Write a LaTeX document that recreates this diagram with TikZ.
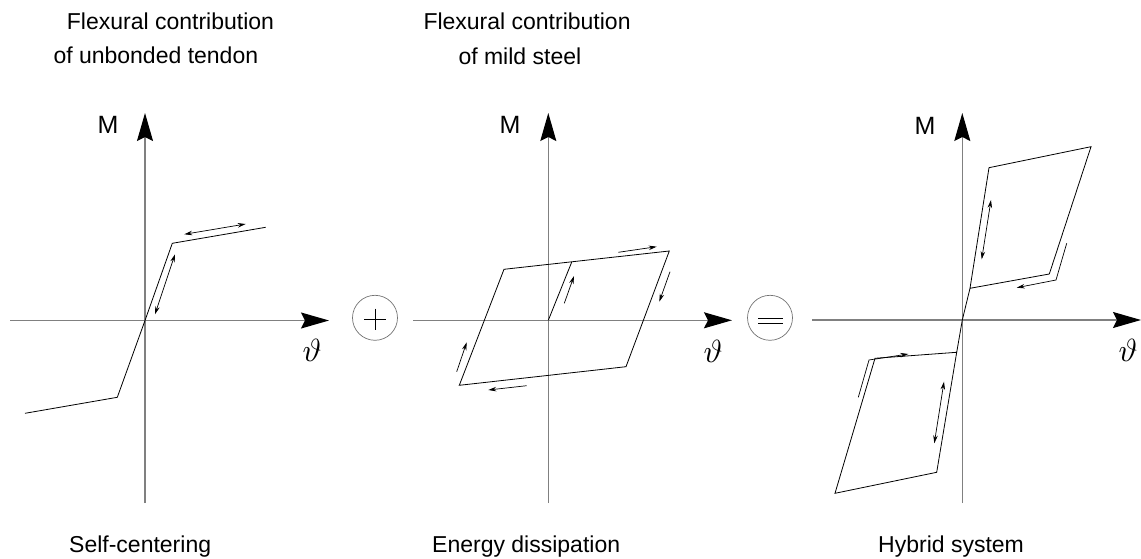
\documentclass[tikz,border=0pt]{standalone}
\usepackage{fontspec}
\setmainfont{Liberation Sans}
\usetikzlibrary{arrows.meta}
\begin{document}
\begin{tikzpicture}[x=1pt,y=-1pt,
  axis/.style={draw=black!50, line width=1.2pt, -{Stealth[length=28pt,width=16pt,inset=4pt,color=black]}},
  curve/.style={draw=black, line width=0.8pt, line join=miter},
  darr/.style={draw=black, line width=0.7pt, {Stealth[length=8pt,width=4.5pt]}-{Stealth[length=8pt,width=4.5pt]}},
  sarr/.style={draw=black, line width=0.7pt, -{Stealth[length=8pt,width=4.5pt]}},
  lbl/.style={font=\fontsize{23}{27}\selectfont, inner sep=0pt, anchor=base west},
  mlbl/.style={font=\fontsize{25}{30}\selectfont, inner sep=0pt},
  thlbl/.style={scale=3.2, inner sep=0pt},
  opc/.style={circle, draw=black!55, line width=0.7pt, minimum size=45pt, inner sep=0pt},
  sign/.style={draw=black, line width=1pt}]
\useasboundingbox (0,0) rectangle (1141,559);
% titles
\node[lbl] (t1a) at (66.7,30) {Flexural contribution};
\node[lbl] (t1b) at (53.3,64) {of unbonded tendon};
\node[lbl] (t2a) at (423.3,30) {Flexural contribution};
\node[lbl] (t2b) at (458.3,65) {of mild steel};
% bottom labels
\node[lbl] (b1) at (69,552) {Self-centering};
\node[lbl] (b2) at (432,552) {Energy dissipation};
\node[lbl] (b3) at (878,552) {Hybrid system};
% axes
\coordinate (o1) at (145,320.5);
\coordinate (o2) at (548.3,320.3);
\coordinate (o3) at (962.3,320);
\draw[axis] (145,503) -- (145,113);
\draw[axis] (10,320.5) -- (329,320.5);
\draw[axis] (548.3,503) -- (548.3,113);
\draw[axis] (413,320.3) -- (732,320.3);
\draw[axis] (962.3,503) -- (962.3,113);
\draw[axis] (812,320) -- (1141,320);
\node[mlbl] (m1) at (108,125) {M};
\node[mlbl] (m2) at (510,125) {M};
\node[mlbl] (m3) at (925,126) {M};
\node[thlbl] (th1) at (312,350) {$\vartheta$};
\node[thlbl] (th2) at (713,351) {$\vartheta$};
\node[thlbl] (th3) at (1128,350) {$\vartheta$};
% operators
\node[opc] (plus) at (375,317.8) {};
\draw[sign] (364,319.3) -- (386,319.3);
\draw[sign] (375,308.5) -- (375,330);
\node[opc] (eq) at (770,317.8) {};
\draw[sign] (758,318.8) -- (782.5,318.8);
\draw[sign] (758,323.6) -- (782.5,323.6);
% panel 1
\draw[curve] (25,413.3) -- (117.3,397.3) -- (o1) -- (172.3,243.3) -- (265.7,227.3);
\draw[darr] (184.3,234.3) -- (245.7,224);
\draw[darr] (175,254.3) -- (155,314.3);
% panel 2
\draw[curve] (504,269.3) -- (669.3,251) -- (626,366.7) -- (459.3,385.3) -- cycle;
\draw[curve] (o2) -- (571.7,262.1);
\draw[sarr] (618.3,252.3) -- (656.7,246.7);
\draw[sarr] (670,271.7) -- (659.3,301.7);
\draw[sarr] (564.3,303.3) -- (574,276);
\draw[sarr] (526.7,385.7) -- (488.3,390);
\draw[sarr] (456.7,371.7) -- (466.7,342.3);
% panel 3
\draw[curve] (o3) -- (970,288.3) -- (989,167.7) -- (1091,146.7) -- (1049.3,274) -- (970,288.3);
\draw[curve] (o3) -- (956.7,352.3) -- (875,358.3) -- (835,493.3) -- (936.7,472.3) -- (956.7,352.3);
\draw[sarr] (1066.7,243.3) -- (1056,280) -- (1016.7,287.7);
\draw[sarr] (858.3,397.3) -- (869,360) -- (908.3,354);
\draw[darr] (991,200) -- (981.7,259.3);
\draw[darr] (944,381.7) -- (934.3,443.3);
\end{tikzpicture}
\end{document}
